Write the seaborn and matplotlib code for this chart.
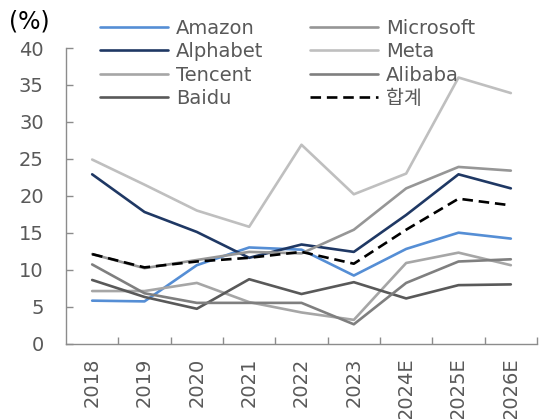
import matplotlib
matplotlib.use("Agg")
import matplotlib.pyplot as plt
import seaborn as sns
import pandas as pd

years = ["2018", "2019", "2020", "2021", "2022", "2023", "2024E", "2025E", "2026E"]

amazon = [5.8, 5.7, 10.6, 13.0, 12.7, 9.2, 12.8, 15.0, 14.2]
alphabet = [22.9, 17.8, 15.1, 11.6, 13.4, 12.4, 17.4, 22.9, 21.0]
tencent = [7.1, 7.1, 8.2, 5.6, 4.2, 3.2, 10.9, 12.3, 10.6]
baidu = [8.6, 6.3, 4.7, 8.7, 6.7, 8.3, 6.1, 7.9, 8.0]
microsoft = [12.1, 10.2, 11.3, 12.4, 12.2, 15.4, 21.0, 23.9, 23.4]
meta = [24.9, 21.5, 18.0, 15.8, 26.9, 20.2, 23.0, 36.0, 33.9]
alibaba = [10.7, 6.8, 5.5, 5.5, 5.5, 2.6, 8.2, 11.1, 11.4]
total = [12.1, 10.3, 11.1, 11.6, 12.4, 10.8, 15.4, 19.6, 18.7]

series = {
    "Amazon": amazon,
    "Alphabet": alphabet,
    "Tencent": tencent,
    "Baidu": baidu,
    "Microsoft": microsoft,
    "Meta": meta,
    "Alibaba": alibaba,
    "합계": total,
}
colors = {
    "Amazon": "#558ED5",
    "Alphabet": "#1F3864",
    "Tencent": "#A6A6A6",
    "Baidu": "#595959",
    "Microsoft": "#969696",
    "Meta": "#BFBFBF",
    "Alibaba": "#7F7F7F",
    "합계": "#000000",
}

sns.set_style("white")
plt.rcParams["font.family"] = ["DejaVu Sans", "Noto Sans CJK KR"]
plt.rcParams["xtick.bottom"] = True
plt.rcParams["ytick.left"] = True

fig = plt.figure(figsize=(5.43, 4.19), dpi=100)
ax = fig.add_axes([66 / 543, 1 - 343.5 / 419, (537 - 66) / 543, (343.5 - 48) / 419])

x = list(range(len(years)))
for name, vals in series.items():
    df = pd.DataFrame({"x": x, "y": vals})
    sns.lineplot(data=df, x="x", y="y", ax=ax, color=colors[name], lw=1.9,
                 label=name, linestyle="--" if name == "합계" else "-")

for line in ax.get_lines():
    if line.get_linestyle() == "--":
        line.set_dashes([4, 2.2])

gray = "#595959"
tick_gray = "#8C8C8C"
ax.set_xlim(-0.5, len(years) - 0.5)
ax.set_ylim(0, 40)
ax.set_yticks(range(0, 41, 5))
ax.set_xticks(x)
ax.set_xticklabels(years, rotation=90, fontsize=14, color=gray)
ax.set_xticks([i - 0.5 for i in range(1, len(years) + 1)], minor=True)
ax.tick_params(axis="x", which="major", bottom=True, length=0, pad=10)
ax.tick_params(axis="x", which="minor", bottom=True, direction="in", length=5,
               color=tick_gray, width=1)
ax.tick_params(axis="y", which="major", left=True, direction="in", length=5,
               color=tick_gray, width=1, labelsize=14, labelcolor=gray, pad=16)
ax.set_xlabel("")
ax.set_ylabel("")

for side in ["top", "right"]:
    ax.spines[side].set_visible(False)
for side in ["left", "bottom"]:
    ax.spines[side].set_color(tick_gray)
    ax.spines[side].set_linewidth(1)

leg = ax.legend(ncol=2, loc="upper left", bbox_to_anchor=(100 / 543, 1 - 19 / 419),
                bbox_transform=fig.transFigure, frameon=False, fontsize=14,
                handlelength=3.5, handletextpad=0.4, columnspacing=2.4,
                labelspacing=0.22, borderpad=0, borderaxespad=0)
for t in leg.get_texts():
    t.set_color(gray)

fig.text(9 / 543, 1 - 22 / 419, "(%)", fontsize=17, color="black", va="center", ha="left")

fig.savefig("out.png", dpi=100)
